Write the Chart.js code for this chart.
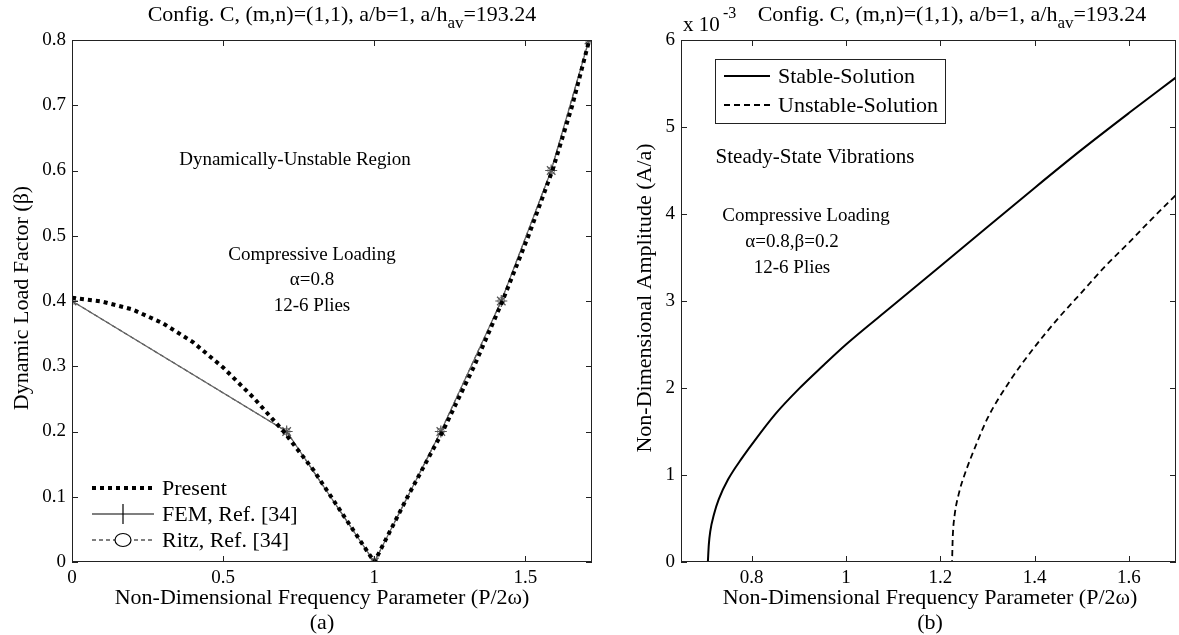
<!DOCTYPE html>
<html>
<head>
<meta charset="utf-8">
<script src="https://cdn.jsdelivr.net/npm/chart.js@4.4.7/dist/chart.umd.min.js"></script>
<style>
  body { margin: 0; background: #fff; }
  #wrap { position: relative; width: 1179px; height: 635px; background: #fff; }
  canvas { position: absolute; top: 0; }
</style>
</head>
<body>
<div id="wrap">
  <canvas id="chartA" width="600" height="635" style="left:0"></canvas>
  <canvas id="chartB" width="579" height="635" style="left:600px"></canvas>
</div>
<script>
// panel (a): instability boundaries, beta vs P/2w
const presentX = [0, 0.1, 0.2, 0.3, 0.4, 0.5, 0.6, 0.7, 0.8, 0.9, 1.0, 1.11, 1.226, 1.33, 1.424, 1.51, 1.589, 1.655, 1.711];
const presentY = [0.405, 0.399, 0.387, 0.366, 0.337, 0.298, 0.252, 0.2, 0.14, 0.07, 0, 0.1, 0.2, 0.3, 0.4, 0.5, 0.6, 0.7, 0.8];
const femX = [0, 0.71, 1.0, 1.22, 1.42, 1.585, 1.71];
const femY = [0.4, 0.2, 0, 0.2, 0.4, 0.6, 0.8];
const ritzX = [0, 0, 0.71, 1.0, 1.22, 1.42, 1.585, 1.71];
const ritzY = [0.8, 0.4, 0.2, 0, 0.2, 0.4, 0.6, 0.8];
const xTicksA = [0, 0.5, 1, 1.5];
const yTicksA = [0, 0.1, 0.2, 0.3, 0.4, 0.5, 0.6, 0.7, 0.8];

// panel (b): amplitude (x 10^-3) vs P/2w
const stableX = [0.707, 0.709, 0.712, 0.72, 0.73, 0.75, 0.78, 0.8, 0.85, 0.9, 0.95, 1.0, 1.1, 1.2, 1.3, 1.4, 1.5, 1.6, 1.7];
const stableY = [0, 0.2, 0.35, 0.55, 0.72, 0.95, 1.2, 1.35, 1.7, 1.99, 2.25, 2.5, 2.95, 3.4, 3.85, 4.3, 4.74, 5.16, 5.57];
const unstableX = [0.707, 1.2247, 1.2265, 1.23, 1.24, 1.25, 1.28, 1.3, 1.35, 1.4, 1.45, 1.5, 1.55, 1.6, 1.65, 1.7];
const unstableY = [0, 0, 0.3, 0.52, 0.8, 0.98, 1.4, 1.65, 2.1, 2.47, 2.8, 3.1, 3.4, 3.67, 3.95, 4.22];
const xTicksB = [0.8, 1, 1.2, 1.4, 1.6];
const yTicksB = [0, 1, 2, 3, 4, 5, 6];

const FONT = '"Liberation Serif", "Times New Roman", serif';
const pts = (xs, ys) => xs.map((x, i) => ({ x: x, y: ys[i] }));

// title with subscript, centred on cx
function drawTitle(ctx, cx, y) {
  const parts = [
    { t: 'Config. C, (m,n)=(1,1), a/b=1, a/h', s: 22, dy: 0 },
    { t: 'av', s: 17, dy: 9 },
    { t: '=193.24', s: 22, dy: 0 }
  ];
  let w = 0;
  parts.forEach(p => { ctx.font = p.s + 'px ' + FONT; p.w = ctx.measureText(p.t).width; w += p.w; });
  let x = cx - w / 2;
  ctx.textAlign = 'left';
  ctx.textBaseline = 'middle';
  parts.forEach(p => { ctx.font = p.s + 'px ' + FONT; ctx.fillText(p.t, x, y + p.dy); x += p.w; });
}

// frame, inward ticks, free texts and legend
const decor = {
  id: 'decor',
  afterDraw(chart, args, o) {
    const ctx = chart.ctx, a = chart.chartArea;
    const sx = chart.scales.x, sy = chart.scales.y;
    ctx.save();
    ctx.strokeStyle = '#222';
    ctx.lineWidth = 1;
    ctx.strokeRect(a.left + 0.5, a.top + 0.5, a.right - a.left - 1, a.bottom - a.top - 1);
    ctx.beginPath();
    sx.ticks.forEach(t => {
      const p = Math.round(sx.getPixelForValue(t.value)) + 0.5;
      ctx.moveTo(p, a.bottom); ctx.lineTo(p, a.bottom - 6);
      ctx.moveTo(p, a.top); ctx.lineTo(p, a.top + 6);
    });
    sy.ticks.forEach(t => {
      const p = Math.round(sy.getPixelForValue(t.value)) + 0.5;
      ctx.moveTo(a.left, p); ctx.lineTo(a.left + 6, p);
      ctx.moveTo(a.right, p); ctx.lineTo(a.right - 6, p);
    });
    ctx.stroke();

    ctx.fillStyle = '#000';
    drawTitle(ctx, o.titleX, 15);
    (o.texts || []).forEach(t => {
      ctx.save();
      ctx.font = (t.size || 19) + 'px ' + FONT;
      ctx.textAlign = t.align || 'center';
      ctx.textBaseline = 'middle';
      ctx.translate(t.x, t.y);
      if (t.rot) ctx.rotate(t.rot);
      ctx.fillText(t.text, 0, 0);
      ctx.restore();
    });

    const lg = o.legend;
    if (lg) {
      if (lg.box) {
        ctx.strokeStyle = '#222';
        ctx.strokeRect(lg.box[0] + 0.5, lg.box[1] + 0.5, lg.box[2], lg.box[3]);
      }
      ctx.font = '22px ' + FONT;
      ctx.textAlign = 'left';
      ctx.textBaseline = 'middle';
      chart.data.datasets.forEach((ds, i) => {
        if (!ds.label) return;
        const y = lg.y + i * lg.dy;
        ctx.save();
        ctx.strokeStyle = ds.legendColor || ds.borderColor;
        ctx.lineWidth = ds.borderWidth;
        ctx.setLineDash(ds.borderDash || []);
        ctx.beginPath();
        ctx.moveTo(lg.x, y); ctx.lineTo(lg.x + lg.len, y);
        ctx.stroke();
        ctx.setLineDash([]);
        if (ds.legendMarker === 'cross') {
          ctx.lineWidth = 1.2;
          ctx.beginPath();
          const c = lg.x + lg.len / 2;
          ctx.moveTo(c, y - 10); ctx.lineTo(c, y + 10);
          ctx.stroke();
        } else if (ds.legendMarker === 'circle') {
          ctx.lineWidth = 1.2;
          ctx.fillStyle = '#fff';
          ctx.beginPath();
          ctx.ellipse(lg.x + lg.len / 2, y, 8, 6.5, 0, 0, Math.PI * 2);
          ctx.fill();
          ctx.stroke();
        }
        ctx.restore();
        ctx.fillText(ds.label, lg.x + lg.len + 8, y + 1);
      });
    }
    ctx.restore();
  }
};

function axes(xmin, xmax, xt, ymin, ymax, yt, yw) {
  const tickFont = { family: FONT, size: 19 };
  return {
    x: {
      type: 'linear', min: xmin, max: xmax,
      afterBuildTicks: s => { s.ticks = xt.map(v => ({ value: v })); },
      afterFit: s => { s.height = 73; },
      grid: { display: false, drawTicks: false },
      border: { display: false },
      ticks: { color: '#000', font: tickFont, padding: 5, maxRotation: 0, autoSkip: false, callback: v => String(v) }
    },
    y: {
      type: 'linear', min: ymin, max: ymax,
      afterBuildTicks: s => { s.ticks = yt.map(v => ({ value: v })); },
      afterFit: s => { s.width = yw; },
      grid: { display: false, drawTicks: false },
      border: { display: false },
      ticks: { color: '#000', font: tickFont, padding: 6, autoSkip: false, callback: v => String(v) }
    }
  };
}

new Chart(document.getElementById('chartA'), {
  type: 'scatter',
  data: {
    datasets: [
      {
        label: 'Present', data: pts(presentX, presentY), showLine: true,
        borderColor: '#000', borderWidth: 4, borderDash: [4, 4], pointRadius: 0, borderCapStyle: 'butt'
      },
      {
        label: 'FEM, Ref. [34]', data: pts(femX, femY), showLine: true, legendMarker: 'cross', legendColor: '#000',
        borderColor: '#666', borderWidth: 1.2, pointStyle: 'star', pointRadius: 6,
        pointBorderColor: '#555', pointBorderWidth: 1.2
      },
      {
        label: 'Ritz, Ref. [34]', data: pts(ritzX, ritzY), showLine: true, legendMarker: 'circle', legendColor: '#000',
        borderColor: '#444', borderWidth: 1.2, borderDash: [4, 3],
        pointStyle: 'circle', pointRadius: ritzX.map((v, i) => i === 0 ? 0 : 3.5),
        pointBackgroundColor: 'rgba(0,0,0,0)', pointBorderColor: '#888', pointBorderWidth: 1
      }
    ]
  },
  options: {
    responsive: false, animation: false,
    layout: { padding: { top: 40, right: 8, left: 0, bottom: 0 } },
    plugins: {
      legend: { display: false }, tooltip: { enabled: false },
      decor: {
        titleX: 342,
        texts: [
          { text: 'Dynamically-Unstable Region', x: 295, y: 160 },
          { text: 'Compressive Loading', x: 312, y: 255 },
          { text: '\u03b1=0.8', x: 312, y: 280 },
          { text: '12-6 Plies', x: 312, y: 306 },
          { text: 'Non-Dimensional Frequency Parameter (P/2\u03c9)', x: 322, y: 598, size: 22 },
          { text: '(a)', x: 322, y: 623, size: 22 },
          { text: 'Dynamic Load Factor (\u03b2)', x: 22, y: 298, rot: -Math.PI / 2, size: 22 }
        ],
        legend: { x: 92, y: 488, dy: 26, len: 62 }
      }
    },
    scales: axes(0, 1.72, xTicksA, 0, 0.8, yTicksA, 72)
  },
  plugins: [decor]
});

new Chart(document.getElementById('chartB'), {
  type: 'scatter',
  data: {
    datasets: [
      {
        label: 'Stable-Solution', data: pts(stableX, stableY), showLine: true,
        borderColor: '#000', borderWidth: 2, pointRadius: 0, cubicInterpolationMode: 'monotone'
      },
      {
        label: 'Unstable-Solution', data: pts(unstableX, unstableY), showLine: true,
        borderColor: '#000', borderWidth: 1.8, borderDash: [6, 4], pointRadius: 0, cubicInterpolationMode: 'monotone'
      }
    ]
  },
  options: {
    responsive: false, animation: false,
    layout: { padding: { top: 40, right: 3, left: 0, bottom: 0 } },
    plugins: {
      legend: { display: false }, tooltip: { enabled: false },
      decor: {
        titleX: 352,
        texts: [
          { text: 'x 10', x: 83, y: 25, align: 'left', size: 21 },
          { text: '-3', x: 123, y: 14, align: 'left', size: 16 },
          { text: 'Steady-State Vibrations', x: 215, y: 157, size: 21 },
          { text: 'Compressive Loading', x: 206, y: 216 },
          { text: '\u03b1=0.8,\u03b2=0.2', x: 192, y: 242 },
          { text: '12-6 Plies', x: 192, y: 268 },
          { text: 'Non-Dimensional Frequency Parameter (P/2\u03c9)', x: 330, y: 598, size: 22 },
          { text: '(b)', x: 330, y: 623, size: 22 },
          { text: 'Non-Dimensional Amplitude (A/a)', x: 45, y: 298, rot: -Math.PI / 2, size: 22 }
        ],
        legend: { x: 124, y: 76, dy: 29, len: 46, box: [115, 59, 230, 64] }
      }
    },
    scales: axes(0.65, 1.7, xTicksB, 0, 6, yTicksB, 81)
  },
  plugins: [decor]
});
</script>
</body>
</html>
